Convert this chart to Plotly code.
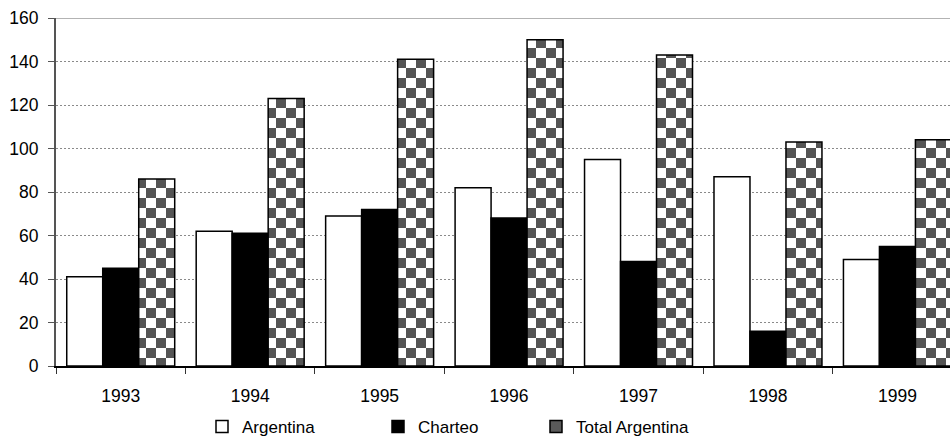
import plotly.graph_objects as go

# Passenger totals by year (values in thousands)
years = ["1993", "1994", "1995", "1996", "1997", "1998", "1999"]
argentina = [41, 62, 69, 82, 95, 87, 49]
charteo = [45, 61, 72, 68, 48, 16, 55]
total_argentina = [86, 123, 141, 150, 143, 103, 104]

y_ticks = [0, 20, 40, 60, 80, 100, 120, 140, 160]
y_max = 160

FONT = "Liberation Sans, Arial, sans-serif"
W, H = 950, 443
ML, MT, MB = 56, 18, 77
plot_w = W - ML

# category width in pixels is set so the last group runs past the right edge
cat_px = 129.45
x_hi = -0.5 + plot_w / cat_px

line = dict(color="#000000", width=1.5)

fig = go.Figure()
fig.add_trace(go.Bar(x=years, y=argentina, name="Argentina",
                     marker=dict(color="#ffffff", line=line), legend="legend"))
fig.add_trace(go.Bar(x=years, y=charteo, name="Charteo",
                     marker=dict(color="#000000", line=line), legend="legend2"))
fig.add_trace(go.Bar(x=years, y=total_argentina, name="Total Argentina",
                     marker=dict(color="#5a5a5a", line=line), legend="legend3"))

# solid rule along the top of the value axis
fig.add_shape(type="line", xref="paper", x0=0, x1=1, yref="y", y0=y_max, y1=y_max,
              line=dict(color="#9a9a9a", width=1.5), layer="below")


def px_to_paper_x(px):
    return (px - ML) / plot_w


leg_common = dict(orientation="h", xanchor="left", yanchor="middle", y=-0.175,
                  font=dict(family=FONT, size=17, color="#000"),
                  bgcolor="rgba(0,0,0,0)", borderwidth=0, visible=True)

fig.update_layout(
    width=W, height=H,
    margin=dict(l=ML, r=0, t=MT, b=MB, autoexpand=False),
    paper_bgcolor="#ffffff", plot_bgcolor="#ffffff",
    barmode="group", bargap=0.166, bargroupgap=0,
    font=dict(family=FONT, size=17, color="#000"),
    hovermode=False,
    showlegend=True,
    legend=dict(x=px_to_paper_x(202), **leg_common),
    legend2=dict(x=px_to_paper_x(378), **leg_common),
    legend3=dict(x=px_to_paper_x(536), **leg_common),
    xaxis=dict(type="category", range=[-0.5, x_hi], tickson="boundaries",
               ticks="outside", ticklen=6, tickcolor="#333", tickwidth=1,
               showline=True, linecolor="#000", linewidth=1.5,
               showgrid=False, zeroline=False, ticklabelstandoff=13,
               tickfont=dict(family=FONT, size=17.5, color="#000")),
    yaxis=dict(range=[0, y_max], tickvals=y_ticks, ticks="outside", ticklen=6,
               tickcolor="#555", tickwidth=1,
               showline=True, linecolor="#555", linewidth=2,
               showgrid=True, gridcolor="#8a8a8a", gridwidth=1, griddash="2px,2px",
               zeroline=False, ticklabelstandoff=6,
               tickfont=dict(family=FONT, size=17.5, color="#000")),
)

# checkerboard fill for the "Total Argentina" bars
checker_js = """
var gd = document.getElementById('{plot_id}');
var svg = gd.querySelector('svg.main-svg');
var ns = 'http://www.w3.org/2000/svg';
var defs = svg.querySelector('defs');
var pat = document.createElementNS(ns, 'pattern');
pat.setAttribute('id', 'checker-fill');
pat.setAttribute('patternUnits', 'userSpaceOnUse');
pat.setAttribute('width', '20');
pat.setAttribute('height', '20');
function sq(x, y, s, c) {
  var r = document.createElementNS(ns, 'rect');
  r.setAttribute('x', x); r.setAttribute('y', y);
  r.setAttribute('width', s); r.setAttribute('height', s);
  r.setAttribute('fill', c);
  pat.appendChild(r);
}
sq(0, 0, 20, '#ffffff');
sq(0, 0, 10, '#555555');
sq(10, 10, 10, '#555555');
defs.appendChild(pat);
var traces = gd.querySelectorAll('.barlayer .trace.bars');
if (traces.length > 2) {
  traces[2].querySelectorAll('path').forEach(function (p) {
    p.style.fill = 'url(#checker-fill)';
  });
}
"""

fig.write_html("out.html", post_script=checker_js)
